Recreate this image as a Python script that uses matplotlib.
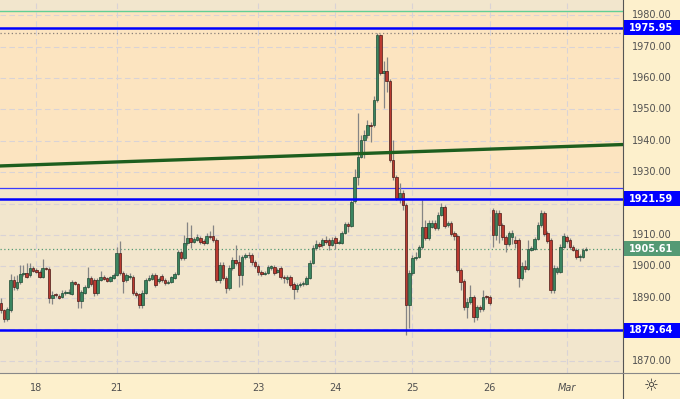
import numpy as np
import matplotlib
matplotlib.use('Agg')
import matplotlib.pyplot as plt
from matplotlib.patches import Rectangle

# Hourly candles (open, high, low, close)
opens = [1888.4, 1886.1, 1883.3, 1886.1, 1895.7, 1893.2, 1895.1, 1897.6, 1897.9, 1897.3,
         1899.5, 1898.9, 1898.2, 1896.6, 1899.5, 1899.2, 1890.0, 1890.9, 1890.6, 1890.3,
         1891.5, 1891.5, 1891.2, 1895.1, 1894.4, 1889.0, 1891.5, 1893.5, 1896.3, 1895.7,
         1891.5, 1895.7, 1896.6, 1896.3, 1895.4, 1896.3, 1897.3, 1904.3, 1897.9, 1895.7,
         1896.6, 1896.6, 1891.5, 1891.2, 1887.7, 1891.5, 1895.7, 1896.0, 1897.3, 1895.4,
         1896.9, 1895.7, 1894.8, 1895.1, 1896.3, 1897.6, 1904.6, 1902.7, 1907.5, 1909.0,
         1907.8, 1908.4, 1909.0, 1908.1, 1907.5, 1909.7, 1909.7, 1908.4, 1895.7, 1900.5,
         1896.3, 1893.2, 1899.5, 1902.0, 1901.4, 1897.3, 1903.0, 1903.6, 1903.6, 1901.4,
         1900.2, 1898.2, 1897.6, 1897.9, 1899.5, 1899.8, 1898.2, 1899.5, 1896.6, 1896.0,
         1896.6, 1894.4, 1892.9, 1894.1, 1894.4, 1894.4, 1896.3, 1901.1, 1905.8, 1907.1,
         1906.8, 1908.4, 1908.4, 1906.8, 1909.0, 1907.5, 1907.5, 1910.6, 1913.5, 1912.9,
         1920.8, 1928.5, 1934.8, 1940.2, 1941.8, 1945.0, 1945.0, 1953.0, 1973.6, 1961.5,
         1962.2, 1959.0, 1933.9, 1928.5, 1921.8, 1923.4, 1919.5, 1887.7, 1897.9, 1902.7,
         1903.0, 1906.2, 1912.6, 1909.0, 1912.6, 1913.8, 1912.2, 1916.4, 1918.9, 1913.2,
         1913.8, 1910.6, 1909.7, 1898.9, 1895.4, 1887.1, 1888.7, 1890.3, 1883.9, 1887.1,
         1886.4, 1890.3, 1890.3, 1918.0, 1910.0, 1917.0, 1913.2, 1909.4, 1907.1, 1909.4,
         1908.4, 1908.4, 1896.3, 1900.2, 1899.2, 1905.2, 1905.5, 1908.7, 1913.2, 1917.0,
         1910.6, 1908.4, 1892.5, 1898.2, 1898.2, 1906.2, 1909.4, 1908.4, 1906.2, 1905.2,
         1903.0, 1903.0, 1905.2]
highs = [1890.0, 1886.4, 1887.1, 1897.6, 1897.0, 1897.3, 1900.5, 1900.5, 1901.1, 1901.1,
         1900.2, 1899.5, 1898.9, 1902.4, 1899.8, 1899.8, 1892.2, 1891.5, 1891.3, 1892.5,
         1892.5, 1892.9, 1895.7, 1895.4, 1894.8, 1892.5, 1894.1, 1899.8, 1897.0, 1896.3,
         1896.3, 1898.5, 1897.3, 1896.6, 1897.0, 1897.9, 1906.2, 1908.1, 1898.5, 1897.9,
         1897.9, 1897.3, 1892.2, 1891.5, 1892.5, 1896.3, 1897.3, 1897.9, 1897.9, 1896.6,
         1897.6, 1896.3, 1895.7, 1897.0, 1898.2, 1905.2, 1905.2, 1910.0, 1914.1, 1913.2,
         1909.4, 1910.3, 1909.7, 1908.7, 1910.6, 1911.3, 1913.2, 1909.0, 1901.4, 1901.4,
         1897.0, 1900.5, 1903.0, 1906.8, 1903.6, 1903.6, 1904.3, 1904.6, 1904.3, 1902.0,
         1900.8, 1898.9, 1898.5, 1900.5, 1900.5, 1900.5, 1899.5, 1900.2, 1897.3, 1897.3,
         1897.3, 1895.1, 1894.8, 1895.1, 1895.4, 1897.0, 1902.0, 1906.8, 1908.4, 1907.8,
         1909.0, 1909.7, 1909.0, 1909.4, 1909.7, 1908.4, 1911.3, 1914.1, 1914.1, 1921.1,
         1931.0, 1948.8, 1941.8, 1943.4, 1946.6, 1946.0, 1954.2, 1974.3, 1974.0, 1965.4,
         1966.6, 1959.6, 1940.2, 1929.1, 1926.6, 1924.3, 1920.2, 1898.9, 1903.6, 1904.6,
         1906.8, 1921.1, 1914.8, 1914.8, 1914.8, 1914.8, 1917.4, 1920.2, 1919.5, 1914.5,
         1914.5, 1911.3, 1910.3, 1899.5, 1896.0, 1890.0, 1894.1, 1890.9, 1887.7, 1887.7,
         1892.5, 1890.9, 1890.9, 1918.6, 1918.0, 1918.0, 1913.8, 1910.0, 1911.3, 1911.6,
         1909.7, 1909.0, 1901.4, 1902.0, 1908.4, 1906.5, 1909.4, 1914.1, 1918.0, 1917.7,
         1911.3, 1909.0, 1900.5, 1900.2, 1907.1, 1910.6, 1910.0, 1909.0, 1906.8, 1905.8,
         1903.9, 1905.8, 1906.2]
lows = [1885.2, 1882.3, 1882.6, 1885.5, 1892.5, 1892.5, 1894.4, 1897.0, 1896.3, 1896.6,
        1898.2, 1897.9, 1896.3, 1896.3, 1898.9, 1888.4, 1888.0, 1890.3, 1889.6, 1890.0,
        1890.9, 1891.2, 1890.9, 1894.1, 1886.8, 1886.8, 1891.2, 1893.2, 1893.8, 1890.6,
        1890.9, 1895.4, 1895.7, 1895.1, 1895.1, 1896.0, 1897.0, 1897.3, 1891.5, 1895.1,
        1896.0, 1890.9, 1890.3, 1886.8, 1886.8, 1891.2, 1895.4, 1895.7, 1893.5, 1894.8,
        1895.1, 1894.1, 1894.4, 1894.8, 1896.0, 1897.3, 1902.0, 1902.0, 1906.8, 1905.8,
        1907.5, 1908.1, 1907.1, 1906.8, 1907.1, 1908.7, 1907.8, 1895.1, 1894.8, 1895.7,
        1891.5, 1892.5, 1898.9, 1900.5, 1893.5, 1894.1, 1902.4, 1902.7, 1900.5, 1899.5,
        1897.3, 1897.0, 1897.3, 1897.6, 1898.9, 1897.3, 1897.9, 1896.0, 1894.8, 1894.8,
        1893.5, 1889.6, 1891.9, 1893.5, 1893.8, 1894.1, 1896.0, 1900.8, 1905.2, 1905.8,
        1906.2, 1907.1, 1905.2, 1906.5, 1905.5, 1907.1, 1907.1, 1910.3, 1911.0, 1912.5,
        1920.2, 1925.9, 1934.5, 1934.5, 1940.9, 1939.6, 1944.4, 1952.3, 1960.9, 1950.4,
        1955.5, 1933.2, 1927.5, 1921.1, 1920.2, 1918.0, 1878.2, 1880.4, 1897.3, 1902.0,
        1902.7, 1905.5, 1908.4, 1908.4, 1912.2, 1911.6, 1911.6, 1916.1, 1912.2, 1912.5,
        1909.7, 1908.4, 1898.2, 1892.5, 1886.1, 1883.6, 1888.0, 1882.3, 1882.9, 1885.5,
        1885.8, 1889.6, 1887.7, 1906.2, 1908.4, 1907.5, 1908.4, 1904.6, 1906.5, 1907.1,
        1905.8, 1893.5, 1895.7, 1898.2, 1898.9, 1904.9, 1905.2, 1908.4, 1912.6, 1909.7,
        1907.5, 1891.5, 1891.5, 1897.6, 1897.9, 1905.8, 1907.5, 1905.5, 1904.9, 1902.4,
        1901.7, 1902.7, 1904.9]
closes = [1886.1, 1883.3, 1886.4, 1895.7, 1893.5, 1895.1, 1897.6, 1897.9, 1896.6, 1899.5,
          1898.5, 1898.2, 1896.6, 1899.5, 1899.2, 1890.0, 1890.9, 1890.8, 1890.0, 1891.5,
          1891.7, 1891.9, 1895.1, 1894.4, 1889.0, 1891.9, 1893.5, 1896.3, 1894.4, 1891.5,
          1895.7, 1896.6, 1896.0, 1895.4, 1896.6, 1897.3, 1904.3, 1897.9, 1895.4, 1897.3,
          1896.9, 1891.5, 1890.9, 1887.7, 1891.5, 1895.7, 1896.3, 1897.3, 1894.1, 1896.0,
          1895.7, 1894.8, 1895.1, 1896.6, 1897.6, 1904.6, 1902.7, 1907.5, 1909.0, 1907.8,
          1908.7, 1909.4, 1907.8, 1907.5, 1909.7, 1909.4, 1908.4, 1895.7, 1900.5, 1896.3,
          1893.2, 1899.5, 1902.0, 1901.1, 1897.3, 1903.0, 1903.6, 1903.5, 1901.4, 1900.2,
          1898.2, 1897.6, 1897.9, 1899.8, 1900.2, 1897.9, 1898.9, 1896.6, 1896.3, 1896.6,
          1894.1, 1892.9, 1894.1, 1894.4, 1894.8, 1896.3, 1901.1, 1905.8, 1907.1, 1906.5,
          1908.4, 1907.8, 1906.8, 1908.4, 1907.5, 1907.8, 1910.6, 1913.5, 1912.9, 1920.5,
          1928.5, 1934.8, 1940.2, 1941.8, 1945.0, 1944.7, 1953.0, 1973.6, 1961.5, 1962.2,
          1959.0, 1933.9, 1928.5, 1921.8, 1923.4, 1919.5, 1887.7, 1897.9, 1902.7, 1903.0,
          1906.2, 1912.6, 1909.0, 1913.8, 1913.8, 1912.2, 1916.4, 1918.9, 1912.9, 1913.8,
          1910.3, 1909.7, 1898.9, 1895.1, 1887.1, 1888.7, 1890.3, 1883.9, 1887.1, 1886.4,
          1890.3, 1890.2, 1888.4, 1910.0, 1917.0, 1913.2, 1909.4, 1907.1, 1910.6, 1910.6,
          1907.5, 1896.3, 1900.2, 1899.2, 1905.5, 1905.8, 1908.7, 1913.2, 1917.0, 1910.3,
          1908.1, 1892.5, 1899.5, 1899.5, 1906.2, 1909.7, 1908.1, 1906.2, 1905.2, 1903.0,
          1903.3, 1905.2, 1905.61]

day_ticks = [11, 36, 80, 104, 128, 152, 176]
day_labels = ['18', '21', '23', '24', '25', '26', 'Mar']
price_ticks = [1870, 1880, 1890, 1900, 1910, 1920, 1930, 1940, 1950, 1960, 1970, 1980]
# labels hidden under the level boxes are not shown on the scale
price_labels = [1870, 1890, 1900, 1910, 1930, 1940, 1950, 1960, 1970, 1980]

blue_levels = [1975.95, 1921.59, 1879.64]
last_price = 1905.61
session_high = 1974.3
zone_top = 1981.3
zone_bottom = 1925.0
trend_x = [0, 182]
trend_y = [1932.0, 1938.4]

W, H = 680, 399
bg_main = '#f2e6cd'
bg_zone = '#fce4c0'
bg_axis = '#fdf0cc'
up_col = '#3a8560'
dn_col = '#bb3a30'
last_col = '#549a74'

fig = plt.figure(figsize=(W / 100, H / 100), dpi=100, facecolor=bg_axis)
ax = fig.add_axes([0, 26 / H, 623 / W, 373 / H])
ax.set_facecolor(bg_main)
ylim = (1866.1, 1984.8)
ax.set_ylim(*ylim)
ax.set_xlim(-0.31, 193.5)

# zone and grid
ax.axhspan(zone_bottom, zone_top, color=bg_zone, zorder=0, lw=0)
for p in price_ticks:
    ax.axhline(p, color='#d9d3d6', lw=0.8, ls=(0, (5, 3)), zorder=1)
for t in day_ticks:
    ax.axvline(t, color='#d9d3d6', lw=0.8, ls=(0, (5, 3)), zorder=1)

ax.axhline(zone_top, color='#62cf95', lw=1.0, zorder=2)
ax.axhline(zone_bottom, color='#3b3bff', lw=0.9, zorder=2)
ax.axhline(session_high, color='#8a8078', lw=0.9, ls=(0, (1, 2)), zorder=2)
ax.axhline(last_price, color=last_col, lw=0.9, ls=(0, (1, 2)), zorder=2)

# candles
idx = np.arange(len(closes))
o = np.array(opens)
c = np.array(closes)
hi = np.array(highs)
lo = np.array(lows)
up = c >= o
ax.vlines(idx, lo, hi, color='#858585', lw=0.9, zorder=3)
body_lo = np.minimum(o, c)
body_h = np.maximum(np.abs(c - o), 0.3)
ax.bar(idx[up], body_h[up], bottom=body_lo[up], width=0.8, color=up_col,
       edgecolor='#1f4a33', linewidth=0.5, zorder=4)
ax.bar(idx[~up], body_h[~up], bottom=body_lo[~up], width=0.8, color=dn_col,
       edgecolor='#4a1a16', linewidth=0.5, zorder=4)

# levels and trend line
for lv in blue_levels:
    ax.axhline(lv, color='#0000ff', lw=1.8, zorder=5)
ax.axline((trend_x[0], trend_y[0]), (trend_x[1], trend_y[1]), color='#1e5e1e', lw=2.4, zorder=5)

# axes styling
for s in ['top', 'left']:
    ax.spines[s].set_visible(False)
ax.spines['right'].set_color('#555555')
ax.spines['bottom'].set_color('#888888')
ax.set_yticks([])
ax.set_xticks(day_ticks)
ax.set_xticklabels(day_labels)
ax.tick_params(axis='x', length=0, pad=7, labelsize=7, labelcolor='#505050')
ax.get_xticklabels()[-1].set_style('italic')

# price scale
axp = fig.add_axes([623 / W, 26 / H, 57 / W, 373 / H])
axp.set_xlim(0, 1)
axp.set_ylim(*ylim)
axp.axis('off')
for p in price_labels:
    axp.text(0.5, p, f'{p:.2f}', ha='center', va='center', fontsize=7, color='#505050', zorder=3)
box_h = 4.8
for lv, col in [(blue_levels[0], '#0000ff'), (blue_levels[1], '#0000ff'),
                (blue_levels[2], '#0000ff'), (last_price, last_col)]:
    axp.add_patch(Rectangle((0.02, lv - box_h / 2), 0.98, box_h, color=col, zorder=5, lw=0))
    axp.text(0.5, lv, f'{lv:.2f}', ha='center', va='center', fontsize=7, color='white',
             fontweight='bold', zorder=6)

# divider lines and settings icon
fig.add_artist(plt.Line2D([623 / W, 623 / W], [0, 26 / H], color='#555555', lw=0.8))
fig.add_artist(plt.Line2D([623 / W, 1], [26 / H, 26 / H], color='#888888', lw=0.8))
fig.text(651 / W, 13 / H, '\u263c', ha='center', va='center', fontsize=12, color='#333333')

fig.savefig('out.png', dpi=100, facecolor=fig.get_facecolor())
